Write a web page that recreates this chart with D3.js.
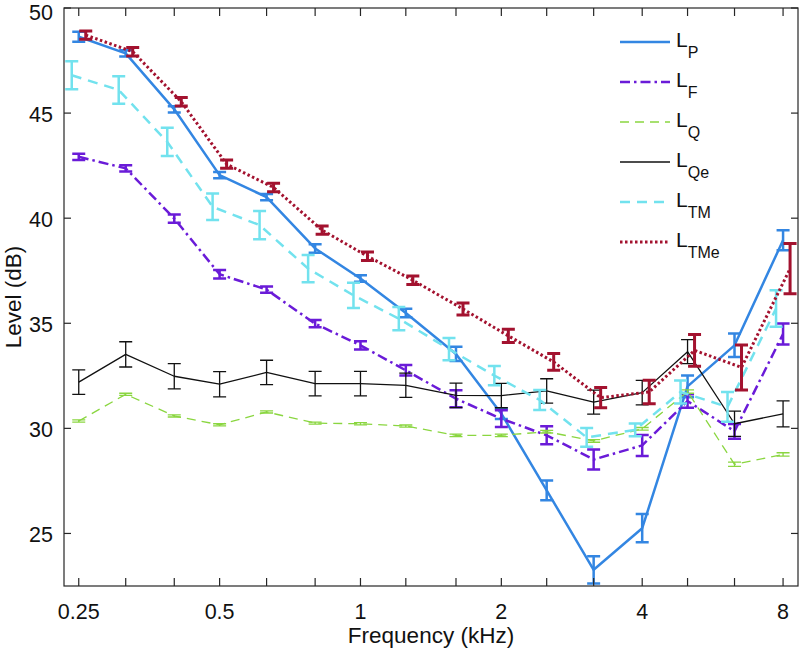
<!DOCTYPE html>
<html><head><meta charset="utf-8">
<script src="https://cdn.jsdelivr.net/npm/d3@7"></script>
<style>body{margin:0;background:#fff}svg{display:block}text{font-family:"Liberation Sans",Arial,Helvetica,sans-serif;fill:#111}</style>
</head><body><svg id="c" width="801" height="658"></svg>
<script>
const freqs = [0.25,0.315,0.4,0.5,0.63,0.8,1,1.25,1.6,2,2.5,3.15,4,5,6.3,8];
const xTickLabels = [0.25,0.5,1,2,4,8];
const yTicks = [25,30,35,40,45,50];

const LP   = [48.63,47.84,45.18,42.05,41.0,38.56,37.13,35.49,33.54,30.7,27.05,23.27,25.25,32.0,33.95,38.95];
const LPe  = [0.24,0.15,0.15,0.15,0.15,0.2,0.15,0.2,0.34,0.25,0.47,0.65,0.67,0.52,0.56,0.48];
const LF   = [42.92,42.37,39.98,37.33,36.6,34.98,33.95,32.76,31.41,30.46,29.67,28.52,29.19,31.3,29.86,34.49];
const LFe  = [0.15,0.15,0.2,0.2,0.15,0.17,0.2,0.25,0.4,0.4,0.43,0.48,0.5,0.32,0.35,0.5];
const LQ   = [30.35,31.62,30.59,30.17,30.78,30.25,30.22,30.11,29.67,29.67,29.84,29.4,29.98,31.75,28.29,28.76];
const LQe_ = [0.05,0.05,0.05,0.05,0.05,0.05,0.05,0.05,0.06,0.06,0.06,0.06,0.06,0.08,0.1,0.08];
const LQe  = [32.2,33.52,32.48,32.1,32.66,32.13,32.13,32.05,31.57,31.56,31.78,31.25,31.7,33.65,30.22,30.69];
const LQee = [0.58,0.6,0.6,0.6,0.58,0.58,0.58,0.58,0.58,0.58,0.58,0.57,0.58,0.57,0.6,0.62];
const LTM  = [46.8,46.1,43.63,40.54,39.67,37.6,36.33,35.22,33.77,32.51,31.35,29.57,29.93,31.73,31.02,35.7];
const LTMe_= [0.67,0.65,0.67,0.63,0.67,0.65,0.6,0.55,0.53,0.46,0.48,0.45,0.3,0.55,0.71,0.87];
const LTMe = [48.71,47.92,45.54,42.57,41.46,39.43,38.19,37.05,35.68,34.4,33.16,31.46,31.73,33.71,32.9,37.6];
const LTMee= [0.2,0.2,0.2,0.2,0.2,0.2,0.2,0.2,0.29,0.32,0.4,0.48,0.56,0.76,1.07,1.2];

const seriesNames = ["P","F","Q","Qe","TM","TMe"];

const series = [
  {name:"P",  v:LP,  e:LPe,  color:"#3386e2", w:2.5, dash:null, dx:0},
  {name:"F",  v:LF,  e:LFe,  color:"#6a1bd8", w:2.5, dash:"10,4,2.5,4", dx:0},
  {name:"Q",  v:LQ,  e:LQe_, color:"#8ad640", w:1.3, dash:"9,6", dx:0},
  {name:"Qe", v:LQe, e:LQee, color:"#111111", w:1.3, dash:null, dx:0},
  {name:"TM", v:LTM, e:LTMe_,color:"#72e2ee", w:2.5, dash:"10,7", dx:-7},
  {name:"TMe",v:LTMe,e:LTMee,color:"#a3122f", w:3,   dash:"2.5,2.5", dx:7}
];

const svg = d3.select("#c");
const L = 64, R = 798, T = 8, B = 586;
const x = d3.scaleLog().domain([0.2325, 8.61]).range([L, R]);
const y = d3.scaleLinear().domain([22.5, 50]).range([B, T]);

// series
const line = (s) => d3.line().x((d,i)=>x(freqs[i])+s.dx).y(d=>y(d));
series.forEach(s => {
  const g = svg.append("g");
  g.append("path").datum(s.v).attr("d", line(s)).attr("fill","none")
    .attr("stroke", s.color).attr("stroke-width", s.w)
    .attr("stroke-dasharray", s.dash).attr("stroke-linejoin","round");
  const cap = 6.5;
  s.v.forEach((v,i) => {
    const cx = x(freqs[i]) + s.dx, y1 = y(v + s.e[i]), y2 = y(v - s.e[i]);
    g.append("path")
      .attr("d", `M${cx},${y1}V${y2}M${cx-cap},${y1}H${cx+cap}M${cx-cap},${y2}H${cx+cap}`)
      .attr("fill","none").attr("stroke", s.color).attr("stroke-width", s.w);
  });
});

// axes box with inward ticks
const ax = svg.append("g").attr("stroke","#262626").attr("stroke-width",1.2).attr("fill","none");
ax.append("rect").attr("x",L).attr("y",T).attr("width",R-L).attr("height",B-T);
const tickLen = 8;
freqs.forEach(f => {
  ax.append("line").attr("x1",x(f)).attr("x2",x(f)).attr("y1",B).attr("y2",B-tickLen);
  ax.append("line").attr("x1",x(f)).attr("x2",x(f)).attr("y1",T).attr("y2",T+tickLen);
});
yTicks.forEach(t => {
  ax.append("line").attr("x1",L).attr("x2",L+7).attr("y1",y(t)).attr("y2",y(t));
  ax.append("line").attr("x1",R).attr("x2",R-7).attr("y1",y(t)).attr("y2",y(t));
});

// tick labels
svg.append("g").selectAll("text").data(xTickLabels).join("text")
  .attr("x", d=>x(d)).attr("y", 619).attr("text-anchor","middle")
  .attr("font-size",21.5).text(d=>d);
svg.append("g").selectAll("text").data(yTicks).join("text")
  .attr("x", 53).attr("y", d=>Math.max(y(d)+8.5, 20)).attr("text-anchor","end")
  .attr("font-size",21.5).text(d=>d);

// axis titles
svg.append("text").attr("x",(L+R)/2).attr("y",643).attr("text-anchor","middle")
  .attr("font-size",22.5).text("Frequency (kHz)");
svg.append("text").attr("transform",`translate(21,${(T+B)/2}) rotate(-90)`)
  .attr("text-anchor","middle").attr("font-size",22.5).text("Level (dB)");

// legend
const lg = svg.append("g");
series.forEach((s,i) => {
  const yy = 42 + i*40;
  lg.append("line").attr("x1",620).attr("x2",670).attr("y1",yy).attr("y2",yy)
    .attr("stroke",s.color).attr("stroke-width",s.w).attr("stroke-dasharray",s.dash);
  const t = lg.append("text").attr("x",676).attr("y",yy+5).attr("font-size",21);
  t.append("tspan").text("L");
  t.append("tspan").attr("dy",11).attr("font-size",16).text(seriesNames[i]);
});
</script></body></html>
